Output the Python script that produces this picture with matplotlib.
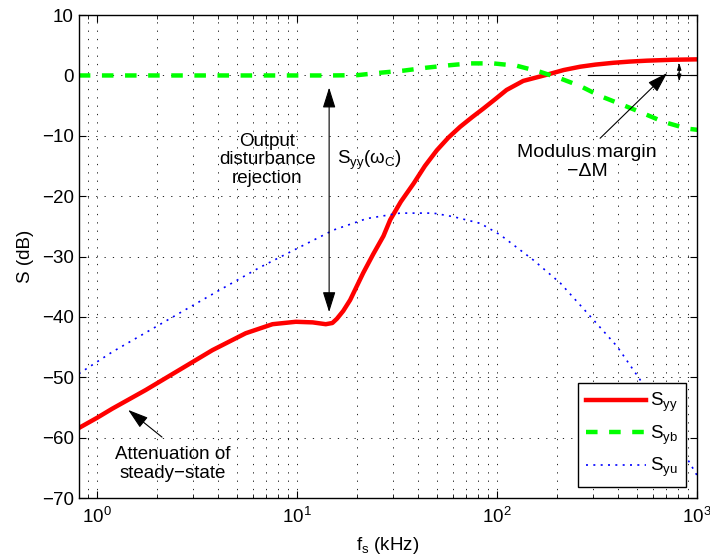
import numpy as np
import matplotlib
matplotlib.use('Agg')
import matplotlib.pyplot as plt

plt.rcParams['font.family'] = ['Liberation Sans', 'DejaVu Sans']
plt.rcParams['mathtext.default'] = 'regular'
plt.rcParams['font.size'] = 13.5

# S_yy (red, solid)
f_yy = [0.81, 1.0, 1.19, 1.75, 2.57, 3.77, 5.53, 7.53, 9.85, 11.96, 13.9, 15.0,
        15.8, 17.0, 18.4, 21.4, 24.0, 27.0, 29.2, 33.0, 38.2, 43.5, 49.9, 57.0,
        65.3, 75.0, 85.2, 98.0, 111.4, 135.0, 176.0, 215.0, 260.0, 310.0, 381.0,
        460.0, 560.0, 750.0, 1000.0]
S_yy = [-58.4, -56.7, -55.2, -52.1, -48.8, -45.5, -42.7, -41.2, -40.8, -40.9,
        -41.2, -41.0, -40.3, -39.0, -37.2, -32.7, -29.6, -26.6, -23.9, -20.9,
        -17.9, -15.0, -12.4, -10.3, -8.5, -6.9, -5.5, -3.9, -2.4, -0.9, 0.1,
        0.9, 1.45, 1.8, 2.1, 2.3, 2.45, 2.6, 2.67]

# S_yb (green, dashed)
f_yb = [0.81, 5.0, 14.6, 20.0, 26.0, 34.0, 44.6, 58.0, 73.0, 95.6, 125.6, 164.0,
        207.0, 260.0, 327.0, 426.0, 540.0, 680.0, 889.0, 1000.0]
S_yb = [0.0, 0.0, 0.0, 0.05, 0.45, 0.8, 1.3, 1.7, 2.0, 2.0, 1.6, 0.6, -0.5,
        -1.75, -3.4, -4.9, -6.3, -7.7, -8.8, -9.0]

# S_yu (blue, dotted)
f_yu = [0.81, 1.19, 1.75, 2.57, 4.07, 6.5, 10.35, 15.2, 22.3, 32.7, 48.0, 60.5,
        82.4, 103.6, 152.0, 207.0, 292.0, 398.0, 518.0, 700.0, 850.0, 1000.0]
S_yu = [-49.4, -45.8, -42.6, -39.4, -35.6, -31.8, -28.4, -25.6, -23.7, -22.8,
        -22.8, -23.4, -24.5, -26.4, -30.6, -34.4, -39.9, -44.9, -50.4, -57.9,
        -62.3, -66.3]

fig = plt.figure(figsize=(7.1, 5.59), dpi=100)
ax = fig.add_axes([0.111, 0.109, 0.871, 0.864])

ax.semilogx(f_yy, S_yy, color='#ff0000', lw=3.2, label='S$_{yy}$')
ax.semilogx(f_yb, S_yb, color='#00ff00', lw=3.2, dashes=[2.6, 2.6], label='S$_{yb}$')
ax.semilogx(f_yu, S_yu, color='#0000ff', lw=1.2, dashes=[1.2, 3.2], label='S$_{yu}$')

ax.set_xlim(0.81, 1000)
ax.set_ylim(-70, 10)
ax.set_yticks(np.arange(-70, 11, 10))

grid_ls = (0, (1.5, 8.5))
ax.grid(True, which='major', axis='both', color='k', linestyle=grid_ls, lw=0.6)
ax.grid(True, which='minor', axis='x', color='k', linestyle=grid_ls, lw=0.6)
ax.tick_params(which='both', direction='in', top=True, right=True, labelsize=13.5)
ax.tick_params(which='major', length=5)
ax.tick_params(which='minor', length=3)
ax.tick_params(axis='x', which='major', pad=6)
for s in ax.spines.values():
    s.set_linewidth(1.0)

ax.set_xlabel('f$_s$ (kHz)', fontsize=13.5, labelpad=6)
ax.set_ylabel('S (dB)', fontsize=13.5, labelpad=6)

arr = dict(color='k', lw=0.8, shrinkA=0, shrinkB=0)

# vertical double arrow S_yy(w_C)
ax.annotate('', xy=(14.45, -39.2), xytext=(14.45, -2.0),
            arrowprops=dict(arrowstyle='<|-|>,head_length=0.7,head_width=0.22',
                            mutation_scale=18, **arr))
ax.text(7.08, -14.0, 'Output\ndisturbance\nrejection', ha='center', va='center',
        fontsize=13.5, linespacing=1.15)
ax.text(15.9, -14.0, 'S$_{yy}$(ω$_C$)', ha='left', va='center', fontsize=13.5)

# modulus margin
ax.plot([286, 1000], [0, 0], color='k', lw=0.8)
ax.annotate('', xy=(813, -1.0), xytext=(813, 2.1),
            arrowprops=dict(arrowstyle='<|-|>,head_length=0.5,head_width=0.15',
                            mutation_scale=8, **arr))
ax.annotate('', xy=(707, 0.4), xytext=(327, -10.4),
            arrowprops=dict(arrowstyle='-|>,head_length=0.7,head_width=0.22',
                            mutation_scale=18, **arr))
ax.text(282, -14.3, 'Modulus margin\n−ΔM', ha='center', va='center',
        fontsize=14, linespacing=1.15)

# attenuation of steady-state
ax.annotate('', xy=(1.43, -55.4), xytext=(2.11, -59.9),
            arrowprops=dict(arrowstyle='-|>,head_length=0.7,head_width=0.22',
                            mutation_scale=18, **arr))
ax.text(2.4, -64.4, 'Attenuation of\nsteady−state', ha='center', va='center',
        fontsize=13.5, linespacing=1.15)

leg = ax.legend(loc='lower right', fontsize=13.5, handlelength=3.2, handletextpad=0.25,
                labelspacing=0.5, borderaxespad=0.6, fancybox=False, framealpha=1,
                edgecolor='k', borderpad=0.4)
leg.get_frame().set_linewidth(1.0)

fig.savefig('out.png', dpi=100)
